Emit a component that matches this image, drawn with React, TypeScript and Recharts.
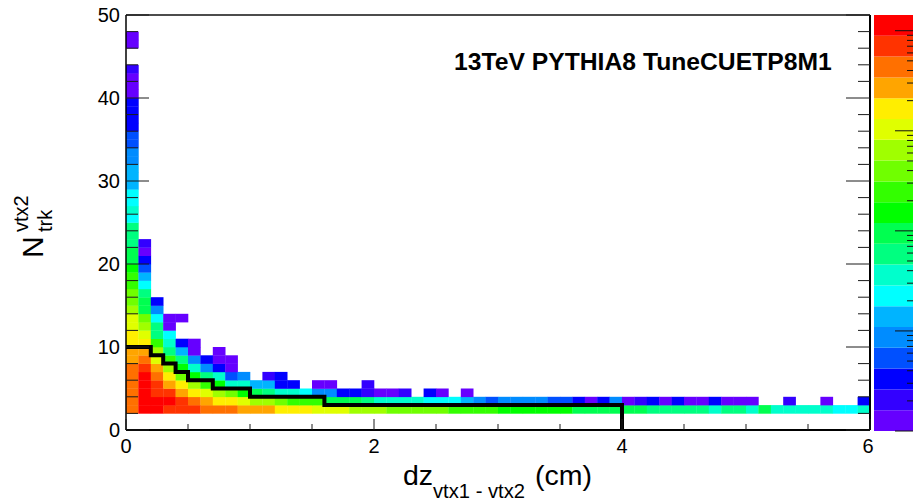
import React from 'react';
import { BarChart, Bar, ComposedChart, Line, Scatter, XAxis, YAxis } from 'recharts';

// colour levels of the z scale, bottom to top
const palette = [
  '#6600ff', '#3300ff', '#0000ff', '#0050ff', '#008cff',
  '#00b4ff', '#00ffff', '#00ffcc', '#00ff80', '#00ff50',
  '#00ff00', '#33ff00', '#70ff00', '#a0ff00', '#e0ff00',
  '#ffee00', '#ffa500', '#ff7000', '#ff3300', '#ff0000',
];

// colour level per dz bin (0.1 cm wide), one array per Ntrk row
const _ = null;
const n2 = [17, 19, 19, 18, 18, 18, 17, 17, 17, 16, 16, 16, 15, 15, 15, 14, 14, 14, 13, 13, 13, 12, 12, 12, 12, 12, 11, 11, 11, 11, 10, 10, 10, 10, 10, 10, 9, 9, 9, 9, 9, 9, 8, 8, 8, 8, 8, 7, 8, 8, 7, 9, 7, 7, 7, 7, 7, 6, 6, 7];
const n3 = [17, 19, 19, 19, 18, 17, 16, 15, 15, 14, 13, 13, 12, 11, 11, 11, 9, 9, 9, 8, 7, 7, 7, 7, 6, 6, 6, 5, 4, 3, 4, 4, 4, 4, 3, 3, 2, 0, 2, 4, 0, 1, 2, 0, 2, 0, 0, 2, 0, 0, 0, _, _, 1, _, _, 0, _, _, 2];
const n4 = [17, 19, 18, 18, 16, 15, 14, 13, 12, 10, 9, 8, 7, 7, 6, 4, 4, 2, 2, 1, 0, 0, 1, _, 2, 0, _, 0];
const n5 = [17, 19, 18, 16, 15, 13, 11, 10, 7, 7, 5, 5, 2, 2, _, 0, 0, _, _, 1];
const n6 = [17, 19, 17, 15, 12, 10, 8, 7, 3, 4, _, 1, 2];
const n7 = [17, 18, 16, 13, 10, 7, 4, 2, 0];
const n8 = [16, 17, 14, 11, 8, 4, 2, 0, 0];
const n9 = [16, 16, 13, 8, 5, 0, _, 0];
const n10 = [15, 15, 11, 7, 2, 0];
const n11 = [15, 14, 8, 6];
const n12 = [14, 13, 8, 0];
const n13 = [14, 12, 6, 0, 0];
const n14 = [13, 9, 4];
const n15 = [12, 9, 2];
const n16 = [12, 8];
const n17 = [11, 6];
const n18 = [11, 5];
const n19 = [10, 3];
const n20 = [9, 2];
const n21 = [9, 0];
const n22 = [8, 1];
// first dz bin only, Ntrk 23 to 47
const firstBinUpper = [8, 8, 6, 7, 6, 6, 5, 5, 5, 4, 4, 3, 3, 2, 2, 2, 2, 0, 0, 0, 1, _, _, 0, 0];

// the black step curve
const stepCurve = [
  { x: 0, y: 10 }, { x: 0.2, y: 9 }, { x: 0.3, y: 8 }, { x: 0.4, y: 7 }, { x: 0.5, y: 6 },
  { x: 0.7, y: 5 }, { x: 1, y: 4 }, { x: 1.6, y: 3 }, { x: 4, y: 3 }, { x: 4, y: 0 },
];

const xTicks = [0, 0.5, 1, 1.5, 2, 2.5, 3, 3.5, 4, 4.5, 5, 5.5, 6];
const xMajor = [0, 2, 4, 6];
const yTicks = [0, 2, 4, 6, 8, 10, 12, 14, 16, 18, 20, 22, 24, 26, 28, 30, 32, 34, 36, 38, 40, 42, 44, 46, 48, 50];
const zTicks = [1, 2, 3, 4, 5, 6, 7, 8, 9, 10, 20, 30, 40, 50, 60, 70, 80, 90, 100, 200, 300, 400, 500, 600, 700, 800, 900, 1000, 2000, 3000, 4000, 5000, 6000, 7000, 8000, 9000, 10000];
const zMajor = [1, 10, 100, 1000, 10000];

const rows = [n2, n3, n4, n5, n6, n7, n8, n9, n10, n11, n12, n13, n14, n15, n16, n17, n18, n19, n20, n21, n22];

const cells = [
  ...rows.flatMap((levels, r) => levels.map((level, k) => ({ x: k * 0.1 + 0.05, y: r + 2.5, level }))),
  ...firstBinUpper.map((level, r) => ({ x: 0.05, y: r + 23.5, level })),
].filter((c) => c.level !== null);

const barRow = [{ band: 'z', ...Object.fromEntries(palette.map((_c, i) => [`l${i}`, 1])) }];

const PLOT_W = 744;
const PLOT_H = 415;
const BIN_W = PLOT_W / 60;
const BIN_H = PLOT_H / 50;

const font = '"Liberation Sans", Arial, sans-serif';
const tickColor = '#1a1a1a';

const HeatCell = ({ cx, cy, payload }: any) => (
  <rect
    x={cx - BIN_W / 2}
    y={cy - BIN_H / 2}
    width={BIN_W + 0.3}
    height={BIN_H + 0.3}
    fill={palette[payload.level]}
  />
);

const BottomTick = ({ x, y, payload }: any) => {
  const major = xMajor.includes(payload.value);
  return (
    <g>
      <line x1={x} x2={x} y1={y} y2={y - (major ? 11 : 6)} stroke={tickColor} strokeWidth={1} />
      {major && (
        <text x={payload.value === 6 ? x - 2 : x} y={y + 23} textAnchor="middle" fontSize={20} fontFamily={font} fill="#000">
          {payload.value}
        </text>
      )}
    </g>
  );
};

const LeftTick = ({ x, y, payload }: any) => {
  const major = payload.value % 10 === 0;
  return (
    <g>
      <line x1={x} x2={x + (major ? 23 : 12)} y1={y} y2={y} stroke={tickColor} strokeWidth={1} />
      {major && (
        <text x={x - 6} y={y + 7} textAnchor="end" fontSize={20} fontFamily={font} fill="#000">
          {payload.value}
        </text>
      )}
    </g>
  );
};

const RightTick = ({ x, y, payload }: any) => {
  const major = payload.value % 10 === 0;
  return <line x1={x} x2={x - (major ? 24 : 12)} y1={y} y2={y} stroke={tickColor} strokeWidth={1} />;
};

const ZTick = ({ x, y, payload }: any) => {
  const major = zMajor.includes(payload.value);
  return <line x1={x} x2={x - (major ? 18 : 6)} y1={y} y2={y} stroke="#111" strokeWidth={1} />;
};

const App = () => (
  <div style={{ position: 'absolute', left: 0, top: 0, width: 913, height: 502, overflow: 'hidden', background: '#fff' }}>
    <ComposedChart width={913} height={502} margin={{ top: 14, right: 42, bottom: 32, left: 66 }}>
      <Scatter data={cells} shape={HeatCell} isAnimationActive={false} zIndex={100} />
      <XAxis
        type="number"
        dataKey="x"
        domain={[0, 6]}
        allowDataOverflow
        ticks={xTicks}
        interval={0}
        height={40}
        tickSize={0}
        tickMargin={0}
        tickLine={false}
        tick={BottomTick}
        axisLine={{ stroke: '#000', strokeWidth: 2 }}
      />
      <XAxis xAxisId="top" orientation="top" type="number" domain={[0, 6]} allowDataOverflow height={1} tick={false} tickLine={false} axisLine={{ stroke: '#111', strokeWidth: 1.5 }} />
      <YAxis
        type="number"
        dataKey="y"
        domain={[0, 50]}
        allowDataOverflow
        ticks={yTicks}
        interval={0}
        width={60}
        tickSize={0}
        tickMargin={0}
        tickLine={false}
        tick={LeftTick}
        axisLine={{ stroke: '#000', strokeWidth: 1.5 }}
      />
      <YAxis
        yAxisId="right"
        orientation="right"
        type="number"
        domain={[0, 50]}
        allowDataOverflow
        ticks={yTicks}
        interval={0}
        width={1}
        tickSize={0}
        tickMargin={0}
        tickLine={false}
        tick={RightTick}
        axisLine={{ stroke: '#000', strokeWidth: 2 }}
      />
      <Line
        data={stepCurve}
        dataKey="y"
        type="stepAfter"
        stroke="#000"
        strokeWidth={4}
        dot={false}
        activeDot={false}
        isAnimationActive={false}
        zIndex={700}
      />
      <text x={454} y={70} fontSize={24.7} fontWeight="bold" fontFamily={font} fill="#000">
        13TeV PYTHIA8 TuneCUETP8M1
      </text>
      <text x={403} y={485} fontSize={28.5} fontFamily={font} fill="#000">dz</text>
      <text x={433} y={498} fontSize={20.2} fontFamily={font} fill="#000">vtx1 - vtx2</text>
      <text x={535} y={485} fontSize={28.5} fontFamily={font} fill="#000">(cm)</text>
      <text transform="rotate(-90 43 258)" x={43} y={258} fontSize={30} fontFamily={font} fill="#000">N</text>
      <text transform="rotate(-90 28 232)" x={28} y={232} fontSize={20} fontFamily={font} fill="#000">vtx2</text>
      <text transform="rotate(-90 52 232)" x={52} y={232} fontSize={20} fontFamily={font} fill="#000">trk</text>
    </ComposedChart>
    <div style={{ position: 'absolute', left: 874, top: 0 }}>
      <BarChart width={40} height={502} data={barRow} barCategoryGap={0} barGap={0} margin={{ top: 15, right: 0, bottom: 71, left: 0 }}>
        <XAxis hide dataKey="band" />
        <YAxis hide yAxisId="level" type="number" domain={[0, 20]} allowDataOverflow />
        {palette.map((color, i) => (
          <Bar key={color} yAxisId="level" dataKey={`l${i}`} stackId="z" fill={color} isAnimationActive={false} />
        ))}
        <YAxis
          yAxisId="z"
          orientation="right"
          type="number"
          scale="log"
          domain={[1, 14355]}
          allowDataOverflow
          ticks={zTicks}
          interval={0}
          width={1}
          tickSize={0}
          tickMargin={0}
          tickLine={false}
          axisLine={false}
          tick={ZTick}
        />
      </BarChart>
    </div>
  </div>
);

export default App;
